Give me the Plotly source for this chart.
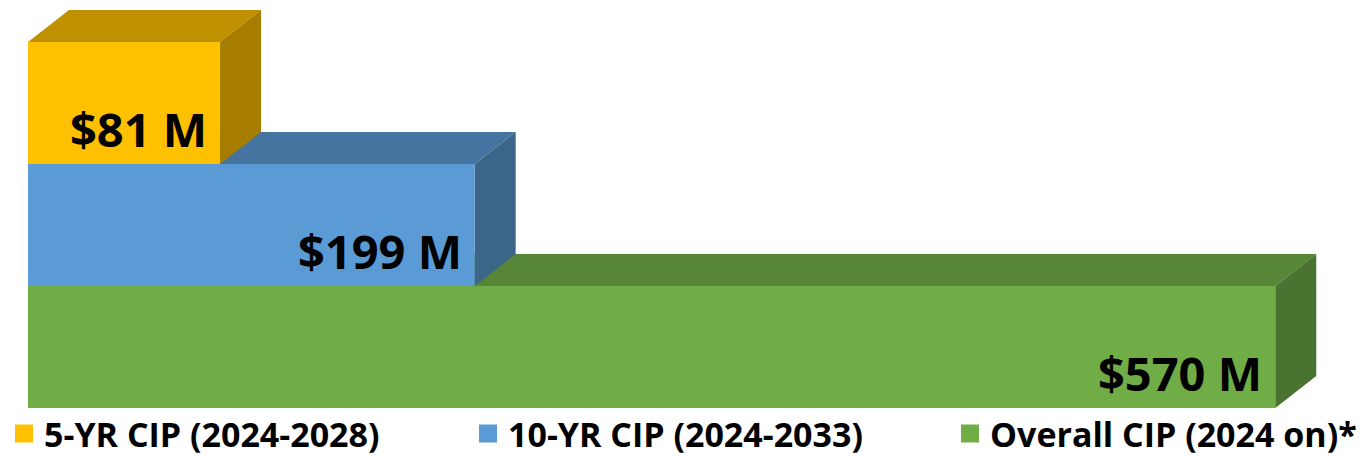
import plotly.graph_objects as go

# ---- data ----
categories = ["5-YR CIP (2024-2028)", "10-YR CIP (2024-2033)", "Overall CIP (2024 on)*"]
values = [81, 199, 570]
labels = ["$81 M", "$199 M", "$570 M"]
front_colors = ["#FFC000", "#5B9BD5", "#70AD47"]
top_colors = ["#BF9000", "#44749F", "#578637"]
side_colors = ["#A67D00", "#3B6689", "#4A7230"]

# ---- layout constants ----
W, H = 1361, 456
ML, MR, MT, MB = 28, 21, 5, 48
AXIS_MIN, AXIS_MAX = -8, 600
Y_MIN = -0.5
Y_PX = 122  # px per category
plot_w = W - ML - MR
plot_h = H - MT - MB
Y_MAX = Y_MIN + plot_h / Y_PX
px_x = plot_w / (AXIS_MAX - AXIS_MIN)
DEPTH_X = 41 / px_x
DEPTH_Y = 32 / Y_PX
FONT = "Open Sans"
LEGEND_LEFT_PX = [4, 468, 950]
LEGEND_CENTER_PX = 434

n = len(values)
ypos = [n - 1 - i for i in range(n)]  # first category on top
legend_ids = ["legend", "legend2", "legend3"]

fig = go.Figure()
for i in range(n):
    fig.add_trace(go.Bar(
        y=[ypos[i]], x=[values[i] - AXIS_MIN], base=[AXIS_MIN],
        orientation="h", width=1, marker=dict(color=front_colors[i], line=dict(width=0)),
        name=categories[i], showlegend=False, hoverinfo="skip"))

# legend entries (one legend per entry for exact placement)
for i in range(n):
    fig.add_trace(go.Scatter(
        x=[None], y=[None], mode="markers", name=categories[i], legend=legend_ids[i],
        marker=dict(symbol="square", size=16, color=front_colors[i],
                    line=dict(width=2, color=front_colors[i])),
        showlegend=True))

shapes = []
for i in reversed(range(n)):
    v = values[i]
    yb = ypos[i] - 0.5
    yt = ypos[i] + 0.5
    top = (f"M{AXIS_MIN},{yt} L{v},{yt} L{v + DEPTH_X},{yt + DEPTH_Y} "
           f"L{AXIS_MIN + DEPTH_X},{yt + DEPTH_Y} Z")
    side = (f"M{v},{yb} L{v},{yt} L{v + DEPTH_X},{yt + DEPTH_Y} "
            f"L{v + DEPTH_X},{yb + DEPTH_Y} Z")
    shapes.append(dict(type="path", path=top, xref="x", yref="y", layer="below",
                       fillcolor=top_colors[i], line=dict(width=0)))
    shapes.append(dict(type="path", path=side, xref="x", yref="y", layer="below",
                       fillcolor=side_colors[i], line=dict(width=0)))

annotations = []
for i in range(n):
    annotations.append(dict(
        x=values[i], y=ypos[i] - 0.5, xref="x", yref="y", text=labels[i],
        showarrow=False, xanchor="right", yanchor="middle", xshift=-11, yshift=35,
        font=dict(family=FONT, size=47, color="#000000", weight="bold")))

legend_style = dict(orientation="h", xref="container", yref="container",
                    xanchor="left", yanchor="middle",
                    font=dict(family=FONT, size=34, color="#000000", weight="bold"),
                    itemclick=False, itemdoubleclick=False, bgcolor="rgba(0,0,0,0)")
legends = {}
for i in range(n):
    legends[legend_ids[i]] = dict(legend_style, x=LEGEND_LEFT_PX[i] / W,
                                  y=(H - LEGEND_CENTER_PX) / H)

fig.update_layout(
    width=W, height=H, margin=dict(l=ML, r=MR, t=MT, b=MB, autoexpand=False),
    paper_bgcolor="white", plot_bgcolor="white",
    shapes=shapes, annotations=annotations, barmode="overlay",
    xaxis=dict(range=[AXIS_MIN, AXIS_MAX], visible=False, fixedrange=True),
    yaxis=dict(range=[Y_MIN, Y_MAX], visible=False, fixedrange=True),
    showlegend=True,
    **legends,
)

fig.write_html(
    "out.html",
    config={"displayModeBar": False},
    post_script="document.body.style.margin='0';document.body.style.overflow='hidden';",
)
